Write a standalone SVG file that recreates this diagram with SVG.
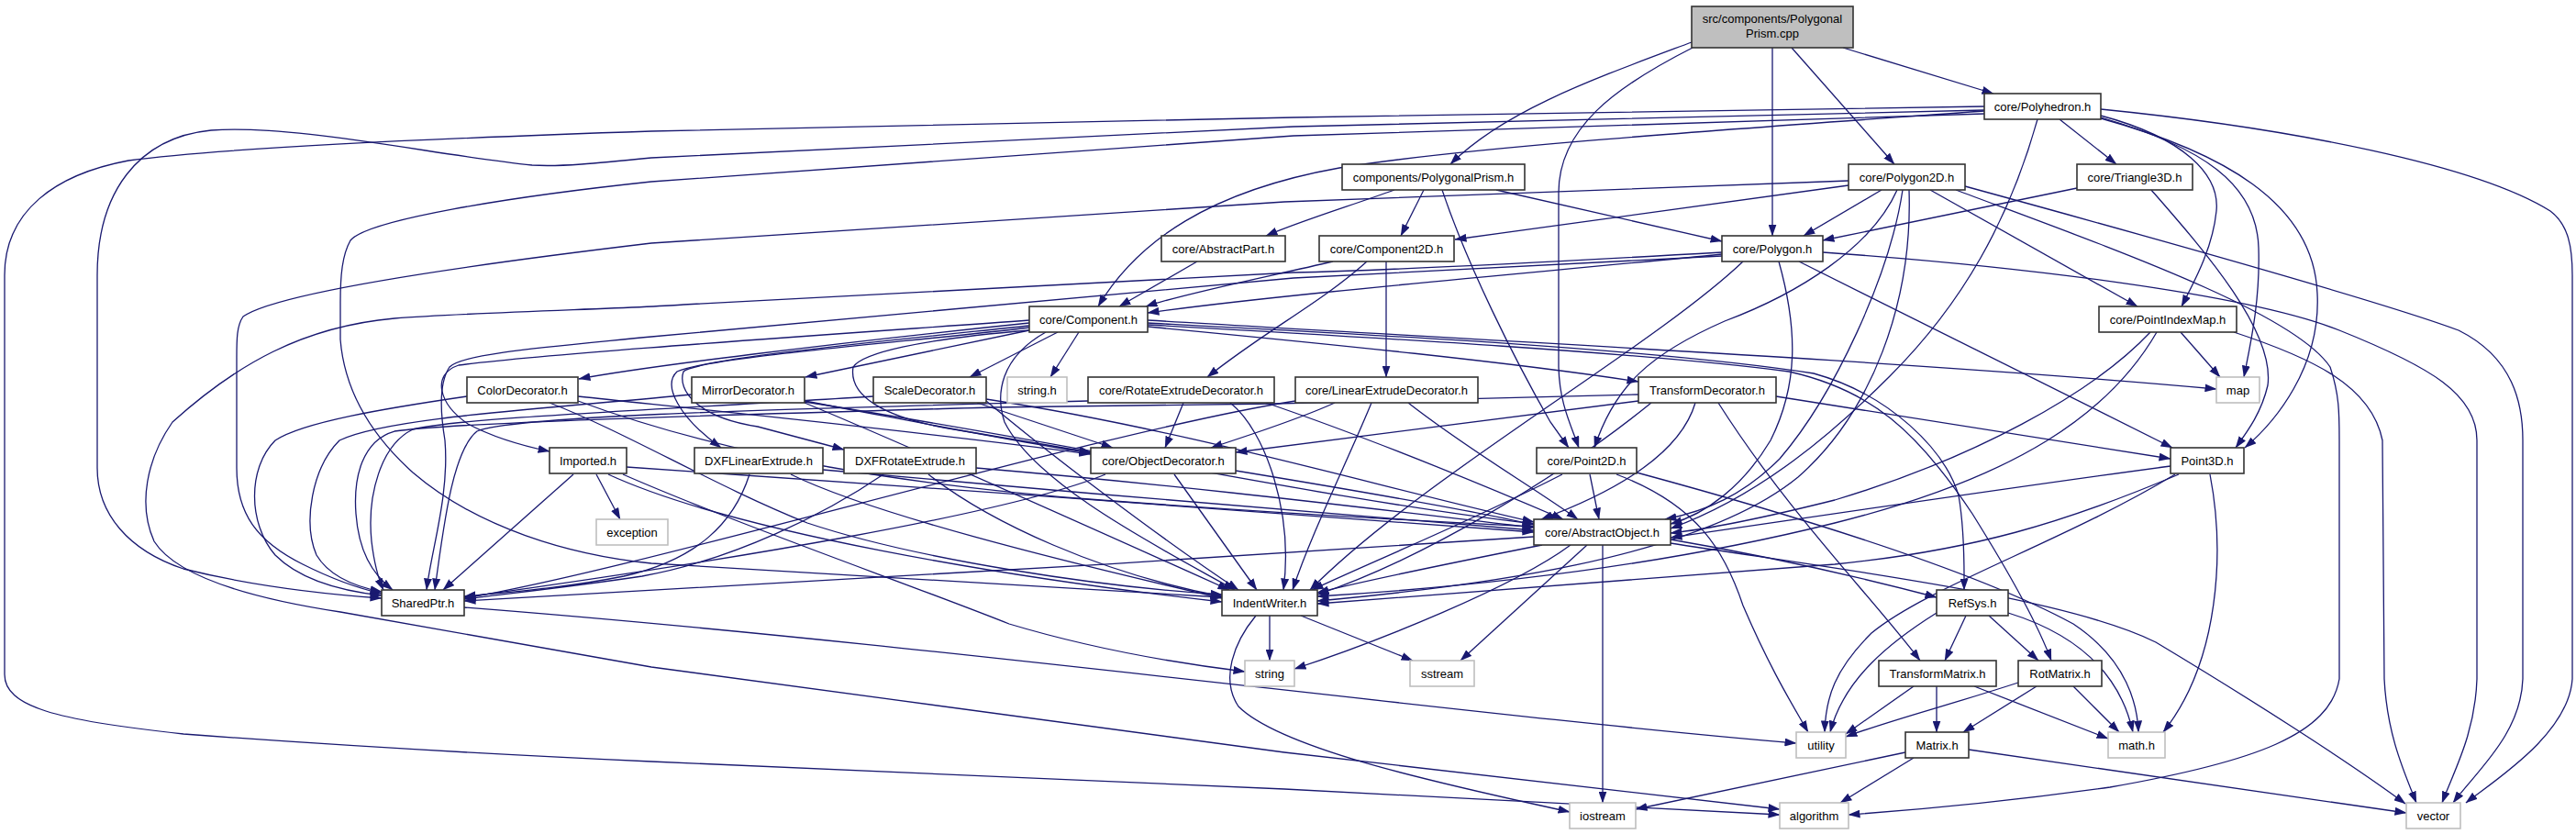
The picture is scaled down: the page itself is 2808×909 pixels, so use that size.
<svg xmlns="http://www.w3.org/2000/svg" width="2808" height="909" viewBox="0 0 2808 909">
<style>
.e{fill:none;stroke:#191970;stroke-width:1.3;marker-end:url(#a)}
.n rect{fill:#fff;stroke:#333;stroke-width:1.6}
.x rect{fill:#fff;stroke:#bfbfbf;stroke-width:1.6}
.r rect{fill:#bfbfbf;stroke:#333;stroke-width:1.6}
text{font-family:"Liberation Sans",Arial,Helvetica,sans-serif;font-size:13px;text-anchor:middle;fill:#000}
</style>
<defs>
<marker id="a" markerWidth="13" markerHeight="9" refX="12.5" refY="4.5" orient="auto" markerUnits="userSpaceOnUse"><path d="M0,0 L13,4.5 L0,9 z" fill="#191970"/></marker>
</defs>
<rect width="2808" height="909" fill="#fff"/>
<g id="connectors">
<path class="e" d="M1844,46 C1740,85 1640,120 1581,179"/>
<path class="e" d="M1845,52 C1760,95 1699,140 1699,210 L1699,400 C1700,440 1712,462 1721,488"/>
<path class="e" d="M1932,52 L1932,257"/>
<path class="e" d="M1953,52 L2065,179"/>
<path class="e" d="M2009,52 L2173,102"/>
<path class="e" d="M2163,121 C1900,140 1600,160 1460,183 C1320,208 1240,262 1197,334"/>
<path class="e" d="M2245,130 L2307,179"/>
<path class="e" d="M2290,126 C2380,150 2420,190 2416,230 C2412,270 2393,305 2378,334"/>
<path class="e" d="M2290,128 C2400,160 2460,200 2462,270 C2464,330 2452,380 2446,411"/>
<path class="e" d="M2290,129 C2420,165 2522,220 2526,320 C2530,400 2480,460 2447,488"/>
<path class="e" d="M2290,119 C2500,140 2700,180 2780,230 C2800,245 2804,270 2804,300 L2804,740 C2800,800 2720,850 2688,875"/>
<path class="e" d="M2221,130 C2190,240 2140,330 2060,410 C2000,470 1920,540 1821,576"/>
<path class="e" d="M2163,116 L1410,128 C1100,133 800,140 710,143 C500,150 250,160 140,175 C60,190 5,230 5,300 L5,735 C5,770 60,785 200,800 C400,815 600,825 710,830 L1400,860 L1940,888"/>
<path class="e" d="M2163,120 L1410,138 L710,172 C650,178 610,182 580,180 C480,170 320,135 230,142 C150,150 106,210 106,300 L106,510 C106,560 140,600 200,620 C280,640 360,648 416,652"/>
<path class="e" d="M2163,124 L1410,148 L710,198 C550,215 400,240 382,262 C373,278 371,300 371,330 L371,370 C375,420 400,470 450,515 C520,575 620,605 710,614 L1332,651"/>
<path class="e" d="M2015,202 L1586,261"/>
<path class="e" d="M2051,207 L1966,257"/>
<path class="e" d="M2104,207 L2330,334"/>
<path class="e" d="M2068,207 C2040,270 1960,320 1880,350 C1800,385 1760,420 1738,488"/>
<path class="e" d="M2074,207 C2060,300 2000,430 1940,500 C1900,540 1860,557 1815,566"/>
<path class="e" d="M2081,207 C2085,330 2040,450 1960,520 C1850,610 1600,640 1436,655"/>
<path class="e" d="M2015,197 L1400,220 L710,265 C500,290 300,320 265,345 C258,355 258,370 258,390 L258,510 C258,560 280,590 330,615 C360,630 385,640 416,647"/>
<path class="e" d="M2142,203 C2350,260 2600,330 2680,360 C2740,390 2750,440 2750,480 L2750,740 C2748,800 2700,840 2674,875"/>
<path class="e" d="M2132,207 C2300,270 2500,340 2540,400 C2550,430 2550,450 2550,480 L2550,740 C2540,800 2460,830 2300,858 C2200,872 2100,882 2015,888"/>
<path class="e" d="M1520,207 C1470,225 1420,240 1380,257"/>
<path class="e" d="M1552,207 L1527,257"/>
<path class="e" d="M1631,207 L1877,263"/>
<path class="e" d="M1572,207 C1600,290 1650,390 1690,460 L1710,488"/>
<path class="e" d="M2264,205 L1987,262"/>
<path class="e" d="M2345,207 C2400,270 2480,360 2472,420 C2465,450 2450,470 2437,488"/>
<path class="e" d="M1305,285 L1220,334"/>
<path class="e" d="M1453,285 C1380,302 1290,320 1249,334"/>
<path class="e" d="M1490,285 C1440,330 1380,360 1316,411"/>
<path class="e" d="M1511,285 L1511,411"/>
<path class="e" d="M1877,277 C1700,295 1400,320 1251,341"/>
<path class="e" d="M1961,285 L2368,488"/>
<path class="e" d="M1939,285 C1960,360 1960,420 1930,480 C1900,530 1860,560 1821,571"/>
<path class="e" d="M1900,285 C1800,380 1550,520 1428,643"/>
<path class="e" d="M1877,279 L1410,303 L710,367 C600,378 505,385 490,400 C478,418 480,450 485,480 C490,540 470,600 465,643"/>
<path class="e" d="M1987,275 C2200,290 2450,320 2550,360 C2650,400 2700,430 2700,480 L2700,740 C2698,800 2675,840 2662,875"/>
<path class="e" d="M1877,275 C1700,285 1500,295 1410,297 L745,332 C700,336 520,340 430,347 C330,356 258,397 188,460 C160,500 150,550 168,590 C190,625 260,650 371,667 L710,727 L1400,820 L1940,882"/>
<path class="e" d="M2377,362 L2420,411"/>
<path class="e" d="M2435,362 C2520,390 2585,420 2597,480 L2599,740 C2602,800 2620,840 2634,875"/>
<path class="e" d="M2344,362 C2280,430 2150,500 2000,545 C1920,565 1860,577 1821,581"/>
<path class="e" d="M2351,362 C2300,450 2200,520 2000,570 C1800,620 1600,640 1436,650"/>
<path class="e" d="M1122,352 C900,375 700,400 631,413"/>
<path class="e" d="M1122,360 L878,411"/>
<path class="e" d="M1153,362 L1057,411"/>
<path class="e" d="M1176,362 L1145,411"/>
<path class="e" d="M1251,356 C1450,375 1650,395 1786,416"/>
<path class="e" d="M1251,349 C1600,370 2100,395 2416,424"/>
<path class="e" d="M1122,349 C900,365 600,385 500,398 C470,408 478,440 510,462 C540,478 570,486 599,492"/>
<path class="e" d="M1122,355 C980,370 770,390 738,405 C722,420 740,455 786,488"/>
<path class="e" d="M1122,357 C1000,372 760,390 745,405 C738,425 760,455 826,465 L920,490"/>
<path class="e" d="M1122,360 C1000,370 940,385 930,400 C925,430 960,455 1040,468 L1189,493"/>
<path class="e" d="M1251,352 C1500,365 1800,380 1977,407 C2060,430 2120,490 2135,540 C2142,580 2141,620 2141,643"/>
<path class="e" d="M1251,354 C1500,368 1800,385 1950,405 C2040,425 2090,470 2150,560 C2200,640 2225,690 2236,720"/>
<path class="e" d="M1140,362 C1090,390 1085,430 1095,460 C1130,530 1270,600 1346,643"/>
<path class="e" d="M1786,437 C1600,460 1450,480 1347,493"/>
<path class="e" d="M1848,439 C1830,500 1750,540 1680,566"/>
<path class="e" d="M1936,432 L2366,500"/>
<path class="e" d="M1873,439 C1950,560 2040,650 2093,720"/>
<path class="e" d="M1800,439 C1700,520 1550,610 1436,648"/>
<path class="e" d="M1786,430 L1389,440 L1080,444 C800,452 500,460 430,470 C395,480 385,520 388,560 C391,600 405,625 428,643"/>
<path class="e" d="M1205,517 C1100,560 800,610 506,651"/>
<path class="e" d="M1347,513 C1450,530 1600,555 1672,572"/>
<path class="e" d="M1280,517 L1370,643"/>
<path class="e" d="M817,517 C800,570 760,610 680,628 C620,640 560,645 506,650"/>
<path class="e" d="M862,517 C950,560 1150,610 1332,652"/>
<path class="e" d="M897,512 C1150,535 1450,560 1672,578"/>
<path class="e" d="M963,517 C900,560 800,610 700,628 C620,640 560,646 506,653"/>
<path class="e" d="M1012,517 C1080,570 1200,625 1332,650"/>
<path class="e" d="M1064,510 C1300,530 1500,555 1672,575"/>
<path class="e" d="M650,517 L676,566"/>
<path class="e" d="M625,517 L483,643"/>
<path class="e" d="M683,509 C1000,530 1400,560 1672,580"/>
<path class="e" d="M663,517 C800,580 1100,630 1332,656"/>
<path class="e" d="M679,517 C800,570 1000,640 1100,680 C1200,710 1300,725 1357,732"/>
<path class="e" d="M509,432 C420,445 330,460 300,480 C270,510 270,570 300,605 C330,635 380,645 416,649"/>
<path class="e" d="M630,432 C800,450 1000,470 1189,495"/>
<path class="e" d="M599,439 C680,470 780,530 880,570 C1000,610 1200,640 1332,648"/>
<path class="e" d="M630,437 C800,500 1000,530 1200,545 C1400,560 1550,568 1672,574"/>
<path class="e" d="M754,430 C600,445 420,455 370,480 C340,510 330,570 345,605 C360,630 390,640 416,645"/>
<path class="e" d="M877,437 C1000,460 1100,480 1189,494"/>
<path class="e" d="M877,439 C1000,490 1200,580 1340,643"/>
<path class="e" d="M877,438 C1150,480 1450,545 1672,571"/>
<path class="e" d="M952,432 C750,445 500,455 450,468 C415,485 400,540 405,590 C408,615 412,630 418,643"/>
<path class="e" d="M1065,439 L1213,488"/>
<path class="e" d="M1075,437 C1150,500 1270,590 1350,643"/>
<path class="e" d="M1075,435 C1300,470 1500,530 1672,569"/>
<path class="e" d="M1290,439 L1270,488"/>
<path class="e" d="M1341,439 C1380,470 1410,560 1399,643"/>
<path class="e" d="M1380,439 C1500,480 1620,530 1704,566"/>
<path class="e" d="M1186,437 C900,445 560,452 520,470 C495,490 485,560 474,643"/>
<path class="e" d="M1455,439 C1420,455 1360,475 1320,488"/>
<path class="e" d="M1495,439 C1470,500 1430,580 1409,643"/>
<path class="e" d="M1535,439 C1600,490 1670,530 1720,566"/>
<path class="e" d="M1412,437 C1200,470 700,620 506,652"/>
<path class="e" d="M1672,585 C1300,610 800,640 506,655"/>
<path class="e" d="M1681,594 C1600,610 1500,630 1436,646"/>
<path class="e" d="M1712,594 C1650,640 1500,700 1411,729"/>
<path class="e" d="M1730,594 L1592,720"/>
<path class="e" d="M1747,594 L1747,875"/>
<path class="e" d="M1821,588 C1950,610 2050,635 2111,651"/>
<path class="e" d="M1821,592 C2000,620 2250,650 2350,700 C2450,760 2560,830 2622,876"/>
<path class="e" d="M1384,671 L1384,720"/>
<path class="e" d="M1418,671 L1540,720"/>
<path class="e" d="M1369,671 C1345,700 1330,740 1350,770 C1400,820 1600,860 1711,885"/>
<path class="e" d="M506,662 C1000,700 1600,780 1958,810"/>
<path class="e" d="M1733,517 L1743,566"/>
<path class="e" d="M1703,517 C1600,570 1500,610 1430,643"/>
<path class="e" d="M1762,517 C1850,550 1880,600 1900,660 C1930,730 1955,770 1971,798"/>
<path class="e" d="M1784,515 C1950,560 2150,620 2260,680 C2320,720 2330,770 2331,798"/>
<path class="e" d="M2366,508 C2200,530 2000,560 1821,586"/>
<path class="e" d="M2375,517 C2250,570 2150,600 2000,615 C1800,630 1600,645 1436,658"/>
<path class="e" d="M2371,517 C2250,590 2100,640 2040,690 C2000,730 1990,760 1989,798"/>
<path class="e" d="M2409,517 C2425,600 2420,720 2358,798"/>
<path class="e" d="M2143,671 L2120,720"/>
<path class="e" d="M2168,671 L2222,720"/>
<path class="e" d="M2189,668 C2260,690 2310,730 2325,798"/>
<path class="e" d="M2111,668 C2060,700 2010,740 1995,798"/>
<path class="e" d="M2111,748 L2111,798"/>
<path class="e" d="M2086,748 L2012,800"/>
<path class="e" d="M2152,748 L2298,805"/>
<path class="e" d="M2220,748 L2140,798"/>
<path class="e" d="M2260,748 L2310,798"/>
<path class="e" d="M2200,744 C2120,770 2060,785 2012,803"/>
<path class="e" d="M2077,820 L1783,882"/>
<path class="e" d="M2086,826 L2006,875"/>
<path class="e" d="M2146,817 L2623,886"/>
</g>
<g id="n_cpp" class="r"><rect x="1844" y="7" width="176" height="45"/><text x="1932" y="25">src/components/Polygonal</text><text x="1932" y="41">Prism.cpp</text></g>
<g id="n_polyhedron" class="n"><rect x="2163" y="102" width="127" height="28"/><text x="2226.5" y="120.5">core/Polyhedron.h</text></g>
<g id="n_polygonalprism_h" class="n"><rect x="1463" y="179" width="199" height="28"/><text x="1562.5" y="197.5">components/PolygonalPrism.h</text></g>
<g id="n_polygon2d" class="n"><rect x="2015" y="179" width="127" height="28"/><text x="2078.5" y="197.5">core/Polygon2D.h</text></g>
<g id="n_triangle3d" class="n"><rect x="2264" y="179" width="126" height="28"/><text x="2327" y="197.5">core/Triangle3D.h</text></g>
<g id="n_abstractpart" class="n"><rect x="1266" y="257" width="135" height="28"/><text x="1333.5" y="275.5">core/AbstractPart.h</text></g>
<g id="n_component2d" class="n"><rect x="1438" y="257" width="147" height="28"/><text x="1511.5" y="275.5">core/Component2D.h</text></g>
<g id="n_polygon" class="n"><rect x="1877" y="257" width="110" height="28"/><text x="1932" y="275.5">core/Polygon.h</text></g>
<g id="n_component" class="n"><rect x="1122" y="334" width="129" height="28"/><text x="1186.5" y="352.5">core/Component.h</text></g>
<g id="n_pointindexmap" class="n"><rect x="2288" y="334" width="150" height="28"/><text x="2363" y="352.5">core/PointIndexMap.h</text></g>
<g id="n_colordecorator" class="n"><rect x="509" y="411" width="121" height="28"/><text x="569.5" y="429.5">ColorDecorator.h</text></g>
<g id="n_mirrordecorator" class="n"><rect x="754" y="411" width="123" height="28"/><text x="815.5" y="429.5">MirrorDecorator.h</text></g>
<g id="n_scaledecorator" class="n"><rect x="952" y="411" width="123" height="28"/><text x="1013.5" y="429.5">ScaleDecorator.h</text></g>
<g id="n_string_h" class="x"><rect x="1098" y="411" width="65" height="28"/><text x="1130.5" y="429.5">string.h</text></g>
<g id="n_rotateextrude" class="n"><rect x="1186" y="411" width="203" height="28"/><text x="1287.5" y="429.5">core/RotateExtrudeDecorator.h</text></g>
<g id="n_linearextrude" class="n"><rect x="1412" y="411" width="199" height="28"/><text x="1511.5" y="429.5">core/LinearExtrudeDecorator.h</text></g>
<g id="n_transformdecorator" class="n"><rect x="1786" y="411" width="150" height="28"/><text x="1861" y="429.5">TransformDecorator.h</text></g>
<g id="n_map" class="x"><rect x="2416" y="411" width="47" height="28"/><text x="2439.5" y="429.5">map</text></g>
<g id="n_imported" class="n"><rect x="599" y="488" width="84" height="28"/><text x="641" y="506.5">Imported.h</text></g>
<g id="n_dxflinear" class="n"><rect x="757" y="488" width="140" height="28"/><text x="827" y="506.5">DXFLinearExtrude.h</text></g>
<g id="n_dxfrotate" class="n"><rect x="920" y="488" width="144" height="28"/><text x="992" y="506.5">DXFRotateExtrude.h</text></g>
<g id="n_objectdecorator" class="n"><rect x="1189" y="488" width="158" height="28"/><text x="1268" y="506.5">core/ObjectDecorator.h</text></g>
<g id="n_point2d" class="n"><rect x="1675" y="488" width="109" height="28"/><text x="1729.5" y="506.5">core/Point2D.h</text></g>
<g id="n_point3d" class="n"><rect x="2366" y="488" width="80" height="28"/><text x="2406" y="506.5">Point3D.h</text></g>
<g id="n_exception" class="x"><rect x="650" y="566" width="78" height="28"/><text x="689" y="584.5">exception</text></g>
<g id="n_abstractobject" class="n"><rect x="1672" y="566" width="149" height="28"/><text x="1746.5" y="584.5">core/AbstractObject.h</text></g>
<g id="n_sharedptr" class="n"><rect x="416" y="643" width="90" height="28"/><text x="461" y="661.5">SharedPtr.h</text></g>
<g id="n_indentwriter" class="n"><rect x="1332" y="643" width="104" height="28"/><text x="1384" y="661.5">IndentWriter.h</text></g>
<g id="n_refsys" class="n"><rect x="2111" y="643" width="78" height="28"/><text x="2150" y="661.5">RefSys.h</text></g>
<g id="n_string" class="x"><rect x="1357" y="720" width="54" height="28"/><text x="1384" y="738.5">string</text></g>
<g id="n_sstream" class="x"><rect x="1537" y="720" width="70" height="28"/><text x="1572" y="738.5">sstream</text></g>
<g id="n_transformmatrix" class="n"><rect x="2048" y="720" width="128" height="28"/><text x="2112" y="738.5">TransformMatrix.h</text></g>
<g id="n_rotmatrix" class="n"><rect x="2200" y="720" width="91" height="28"/><text x="2245.5" y="738.5">RotMatrix.h</text></g>
<g id="n_utility" class="x"><rect x="1958" y="798" width="54" height="28"/><text x="1985" y="816.5">utility</text></g>
<g id="n_matrix" class="n"><rect x="2077" y="798" width="69" height="28"/><text x="2111.5" y="816.5">Matrix.h</text></g>
<g id="n_math_h" class="x"><rect x="2298" y="798" width="62" height="28"/><text x="2329" y="816.5">math.h</text></g>
<g id="n_iostream" class="x"><rect x="1711" y="875" width="72" height="28"/><text x="1747" y="893.5">iostream</text></g>
<g id="n_algorithm" class="x"><rect x="1940" y="875" width="75" height="28"/><text x="1977.5" y="893.5">algorithm</text></g>
<g id="n_vector" class="x"><rect x="2623" y="875" width="59" height="28"/><text x="2652.5" y="893.5">vector</text></g>
</svg>
